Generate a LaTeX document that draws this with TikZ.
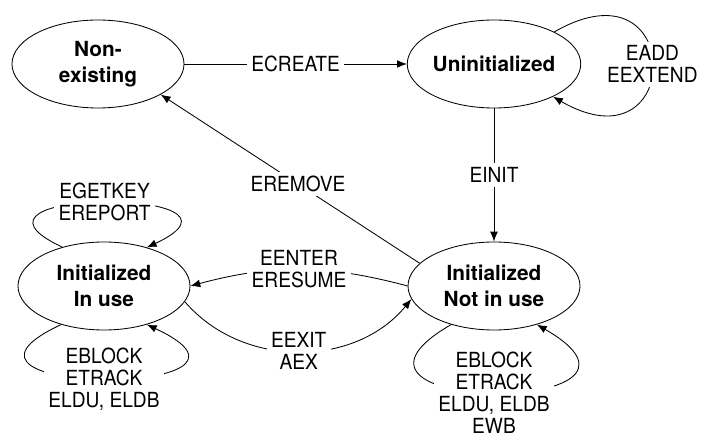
\documentclass[tikz,border=0pt]{standalone}
\usepackage{fontspec}
\setmainfont{TeX Gyre Heros}
\newfontfamily\cmdfont{TeX Gyre Heros}[FakeStretch=0.92]
\usetikzlibrary{arrows.meta,positioning,shapes.geometric}

\begin{document}
\begin{tikzpicture}[
    node distance=9.9cm,
    >={Latex[length=7pt,width=5.5pt]},
    line width=0.6pt,
    font=\cmdfont\fontsize{14.8}{15.6}\selectfont,
    status/.style={
		ellipse,
		draw=black,
		align=center,
		minimum width=4.3cm,
		minimum height=2.2cm,
		inner sep=0pt,
		font=\rmfamily\bfseries\fontsize{14.8}{18.5}\selectfont
	},
	cmd/.style={
		fill=white,
		align=center,
		inner sep=3pt
	}
  ]
  \useasboundingbox (0,0) rectangle (17.6,11);

  % the four states of an enclave
  \node [status] (nonex) at (2.45,9.4) {Non-\\existing};
  \node [status, right of=nonex] (uninit) {Uninitialized};
  \node [status, below of=uninit, node distance=5.55cm] (notinuse) {Initialized\\Not in use};
  \node [status, left of=notinuse, node distance=9.75cm] (inuse) {Initialized\\In use};

  % transitions
  \draw [->] (nonex) -- node [cmd] {ECREATE} (uninit);
  \draw [->] (uninit.28) to [out=30, in=-30, distance=3.8cm] node [cmd] {EADD\\EEXTEND} (uninit.-29);
  \draw [->] (uninit) -- node [cmd] {EINIT} (notinuse);
  \draw [->] (notinuse.163) -- node [cmd, pos=0.47] {EREMOVE} (nonex.-26);
  \draw [->] (notinuse.180) to [bend right=15] node [cmd] {EENTER\\ERESUME} (inuse.0);
  \draw [->] (inuse.-11) to [bend right=50] node [cmd] {EEXIT\\AEX} (notinuse.-171);

  % loops
  \draw [->] (inuse.137) to [out=155, in=25, distance=3.55cm] node [cmd] {EGETKEY\\EREPORT} (inuse.42);
  \draw [->] (inuse.-138) to [out=-155, in=-25, distance=4.3cm] node [cmd] {EBLOCK\\ETRACK\\ELDU, ELDB} (inuse.-42);
  \draw [->] (notinuse.-138) to [out=-150, in=-30, distance=4.55cm] node [cmd] {EBLOCK\\ETRACK\\ELDU, ELDB\\EWB} (notinuse.-42);
\end{tikzpicture}
\end{document}
